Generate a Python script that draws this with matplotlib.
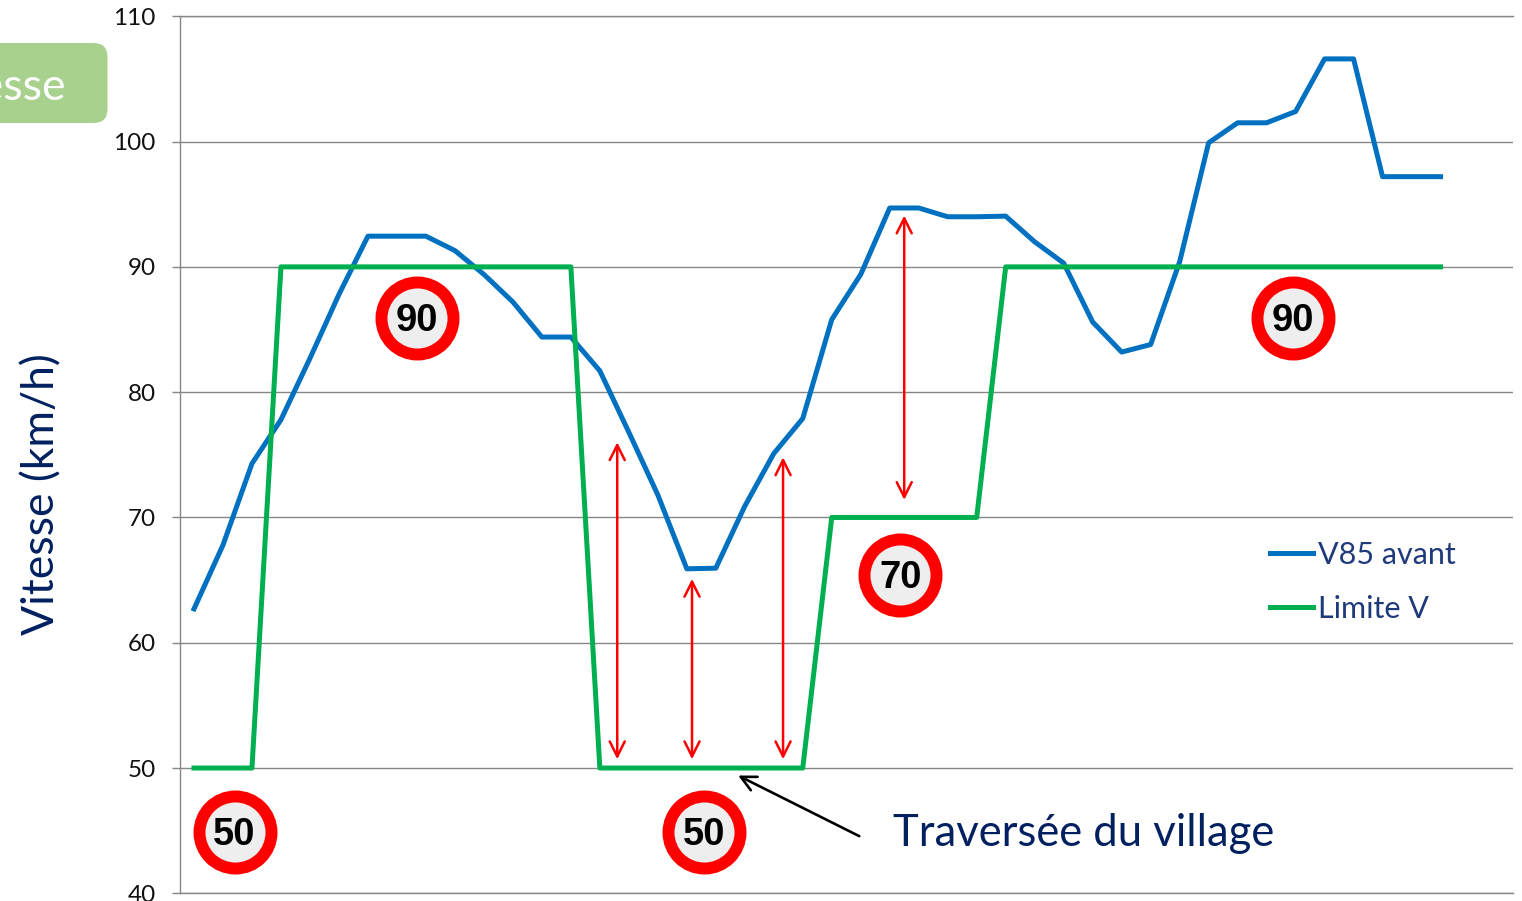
#! /usr/bin/python3

import numpy as np
import matplotlib
matplotlib.use('Agg')
import matplotlib.pyplot as plt
from matplotlib.patches import FancyBboxPatch

v85_avant = [62.7, 67.8, 74.3, 77.8, 82.7, 87.8, 92.45, 92.45, 92.45, 91.3, 89.4,
             87.2, 84.4, 84.4, 81.7, 76.8, 71.8, 65.9, 65.95, 70.9, 75.1, 77.9,
             85.8, 89.4, 94.7, 94.7, 94.0, 94.0, 94.05, 92.0, 90.3, 85.6, 83.2,
             83.8, 90.4, 99.9, 101.5, 101.5, 102.4, 106.6, 106.6, 97.2, 97.2, 97.2]
limite_v = [50, 50, 50, 90, 90, 90, 90, 90, 90, 90, 90,
            90, 90, 90, 50, 50, 50, 50, 50, 50, 50, 50,
            70, 70, 70, 70, 70, 70, 90, 90, 90, 90, 90,
            90, 90, 90, 90, 90, 90, 90, 90, 90, 90, 90]
yticks = [40, 50, 60, 70, 80, 90, 100, 110]

sign_x = [1.40, 7.69, 17.60, 24.37, 37.92]
sign_y = [44.9, 85.95, 44.9, 65.4, 85.95]
sign_txt = ['50', '90', '50', '70', '90']

gap_x = [14.6, 17.18, 20.32, 24.5]
gap_low = [50.7, 50.7, 50.7, 71.4]
gap_high = [76.0, 65.1, 74.8, 94.1]

navy = '#002060'
grey = '#868686'
W, H = 1522, 901

fig = plt.figure(figsize=(W/100, H/100), dpi=100)
ax = fig.add_axes([179.5/W, 1-893.3/H, (1513-179.5)/W, (893.3-16.3)/H])

x = np.arange(len(v85_avant))
ax.plot(x, v85_avant, color='#0070C0', lw=3.6, label='V85 avant', zorder=3)
ax.plot(x, limite_v, color='#00B050', lw=3.6, label='Limite V', zorder=4)

ax.set_xlim(-0.5, 45.5)
ax.set_ylim(40, 110)
ax.set_xticks([])
ax.set_yticks(yticks)
ax.grid(axis='y', color=grey, lw=1.0, zorder=1)
ax.set_axisbelow(True)
ax.spines['right'].set_visible(False)
for side in ['left', 'top', 'bottom']:
    ax.spines[side].set_color(grey)
    ax.spines[side].set_linewidth(1.0)
ax.tick_params(axis='y', length=6, width=1.0, color=grey, pad=11, labelsize=17.5)
for label in ax.get_yticklabels():
    label.set_fontfamily('Lato')
    label.set_color('#111111')

# speed signs
ax.scatter(sign_x, sign_y, s=2690, facecolor='#EEEEEE', edgecolor='#FF0000', linewidth=8.6, zorder=6)
for sx, sy, st in zip(sign_x, sign_y, sign_txt):
    ax.text(sx, sy + 0.05, st, ha='center', va='center_baseline', fontsize=27.5, fontweight='bold',
            family='Liberation Sans', color='black', zorder=7)

# gap arrows
for gx, lo, hi in zip(gap_x, gap_low, gap_high):
    ax.annotate('', xy=(gx, hi), xytext=(gx, lo),
                arrowprops=dict(arrowstyle='<->', color='#FF0000', lw=1.8, mutation_scale=27,
                                shrinkA=0, shrinkB=0), zorder=5)

ax.annotate('', xy=(18.77, 49.4), xytext=(22.95, 44.56),
            arrowprops=dict(arrowstyle='->', color='black', lw=1.9, mutation_scale=27,
                            shrinkA=0, shrinkB=0), annotation_clip=False)

ax.legend(loc='upper left', bbox_to_anchor=(1270/W, 1-541/H), bbox_transform=fig.transFigure,
          frameon=False, prop={'family': 'Lato', 'size': 22}, labelcolor='#1F3A7A',
          handlelength=1.42, handletextpad=0.15, labelspacing=0.85, borderpad=0, borderaxespad=0)

fig.text(893/W, 1-833/H, 'Traversée du village', family='Lato', fontsize=31.4, color=navy,
         ha='left', va='center')
fig.text(42/W, 1-494/H, 'Vitesse (km/h)', family='Lato', fontsize=32, color=navy,
         rotation=90, ha='center', va='center')

# cut-off green box from the slide
box = FancyBboxPatch((-60, H-123), 167.5, 80, boxstyle='round,pad=0,rounding_size=14',
                     facecolor='#A9D18E', edgecolor='none', transform=None, zorder=2)
fig.add_artist(box)
fig.text(66/W, 1-88/H, 'Vitesse', family='Lato', fontsize=32, color='white',
         ha='right', va='center', zorder=3)

fig.savefig('out.png', dpi=100)
